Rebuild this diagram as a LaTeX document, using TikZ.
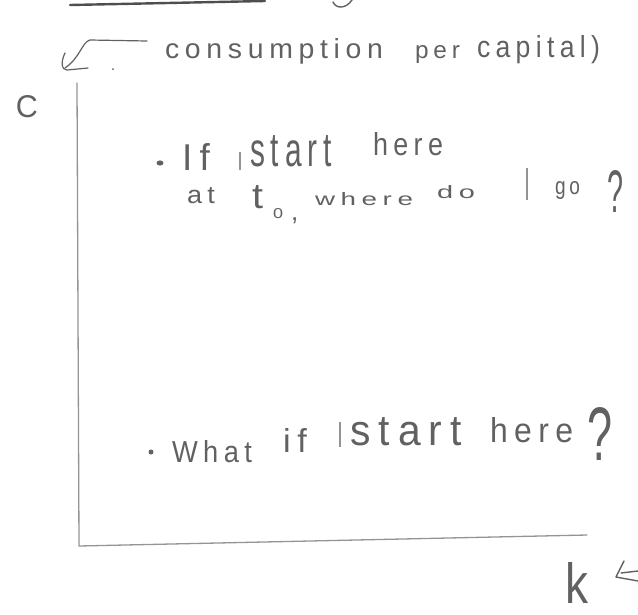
\documentclass[tikz,border=0pt]{standalone}
\usepackage{fontspec}
\newfontfamily\handls[LetterSpace=20]{Liberation Sans}
\newfontfamily\handplain{Liberation Sans}
\definecolor{pencil}{gray}{0.38}
\definecolor{lightpencil}{gray}{0.58}
\tikzset{
  hand/.style={anchor=base west, inner sep=0pt, outer sep=0pt, text=pencil},
  axisline/.style={draw=lightpencil, line width=1.3pt, line cap=round, line join=round},
  penline/.style={draw=pencil, line width=1.4pt, line cap=round, line join=round},
  bullet/.style={fill=pencil}
}
% spaced word: name, x, baseline y, width, height, text
\newcommand{\hw}[6]{\node[hand] (#1) at (#2,#3) {\resizebox{#4pt}{#5pt}{\handls #6}};}
% single glyph
\newcommand{\hc}[6]{\node[hand] (#1) at (#2,#3) {\resizebox{#4pt}{#5pt}{\handplain #6}};}
\begin{document}
\begin{tikzpicture}[x=1pt,y=-1pt]
\useasboundingbox (0,0) rectangle (638,614);

% fragments at the top edge
\coordinate (topA) at (70,5);
\coordinate (topB) at (265,1);
\draw[penline, line width=2.4pt, draw=pencil!80!black] (topA) -- (topB);
\coordinate (jA) at (333,2);
\coordinate (jB) at (352,0);
\draw[penline] (jA) .. controls (336,9) and (346,9) .. (jB);

% header label and its arrow
\hw{h1}{165}{58}{218}{20}{consumption}
\hw{h2}{415}{58}{45}{13}{per}
\hw{h3}{477}{57}{123}{22}{capital)}
\coordinate (tail) at (147,41);
\coordinate (bend) at (90,40);
\coordinate (tip) at (65,68);
\draw[penline, line width=1.2pt] (tail) -- (bend) .. controls (82,42) and (80,58) .. (tip);
\coordinate (barbA) at (65,53);
\coordinate (barbB) at (88,68);
\draw[penline, line width=1.2pt] (barbA) .. controls (61,61) and (61,70) .. (67,70) -- (barbB);
\fill[bullet] (113,69) circle (1pt);

% axes
\hc{clabel}{16}{117}{22}{22}{C}
\coordinate (ytop) at (77,83);
\coordinate (origin) at (79,546);
\coordinate (xend) at (587,535);
\draw[axisline] (ytop) -- (origin) -- (xend);
\hc{klabel}{565}{603}{23}{41}{k}
\coordinate (ltip) at (616,577);
\coordinate (lup) at (624,561);
\coordinate (llow) at (638,581);
\coordinate (lmidA) at (621,573);
\coordinate (lmidB) at (638,571);
\draw[penline] (lup) -- (ltip) -- (llow);
\draw[penline] (lmidA) -- (lmidB);

% first question
\fill[bullet] (160,163) ellipse (3.5pt and 2.6pt);
\hw{a1}{182}{170}{28}{27}{If}
\hc{a2}{238}{170}{4}{18}{I}
\hw{a3}{250}{166}{82}{31}{start}
\hw{a4}{373}{155}{70}{23}{here}
\hw{a5}{187}{203}{28}{16}{at}
\hc{a6}{252}{208}{11}{23}{t}
\hc{a7}{273}{218}{10}{10}{0}
\node[hand, font=\handplain\fontsize{26}{26}\selectfont] (a8) at (291,220) {,};
\hw{a9}{315}{205}{98}{13}{where}
\hw{a10}{437}{198}{38}{13}{do}
\hc{a11}{525}{200}{4}{32}{I}
\hw{a12}{555}{194}{25}{13}{go}
\hc{a13}{607}{212}{16}{42}{?}

% second question
\fill[bullet] (151,452) circle (2.5pt);
\hw{b1}{172}{462}{80}{22}{What}
\hw{b2}{283}{452}{24}{24}{if}
\hc{b3}{338}{447}{4}{25}{I}
\hw{b4}{350}{445}{112}{28}{start}
\hw{b5}{490}{442}{83}{25}{here}
\hc{b6}{587}{460}{25}{53}{?}
\end{tikzpicture}
\end{document}
